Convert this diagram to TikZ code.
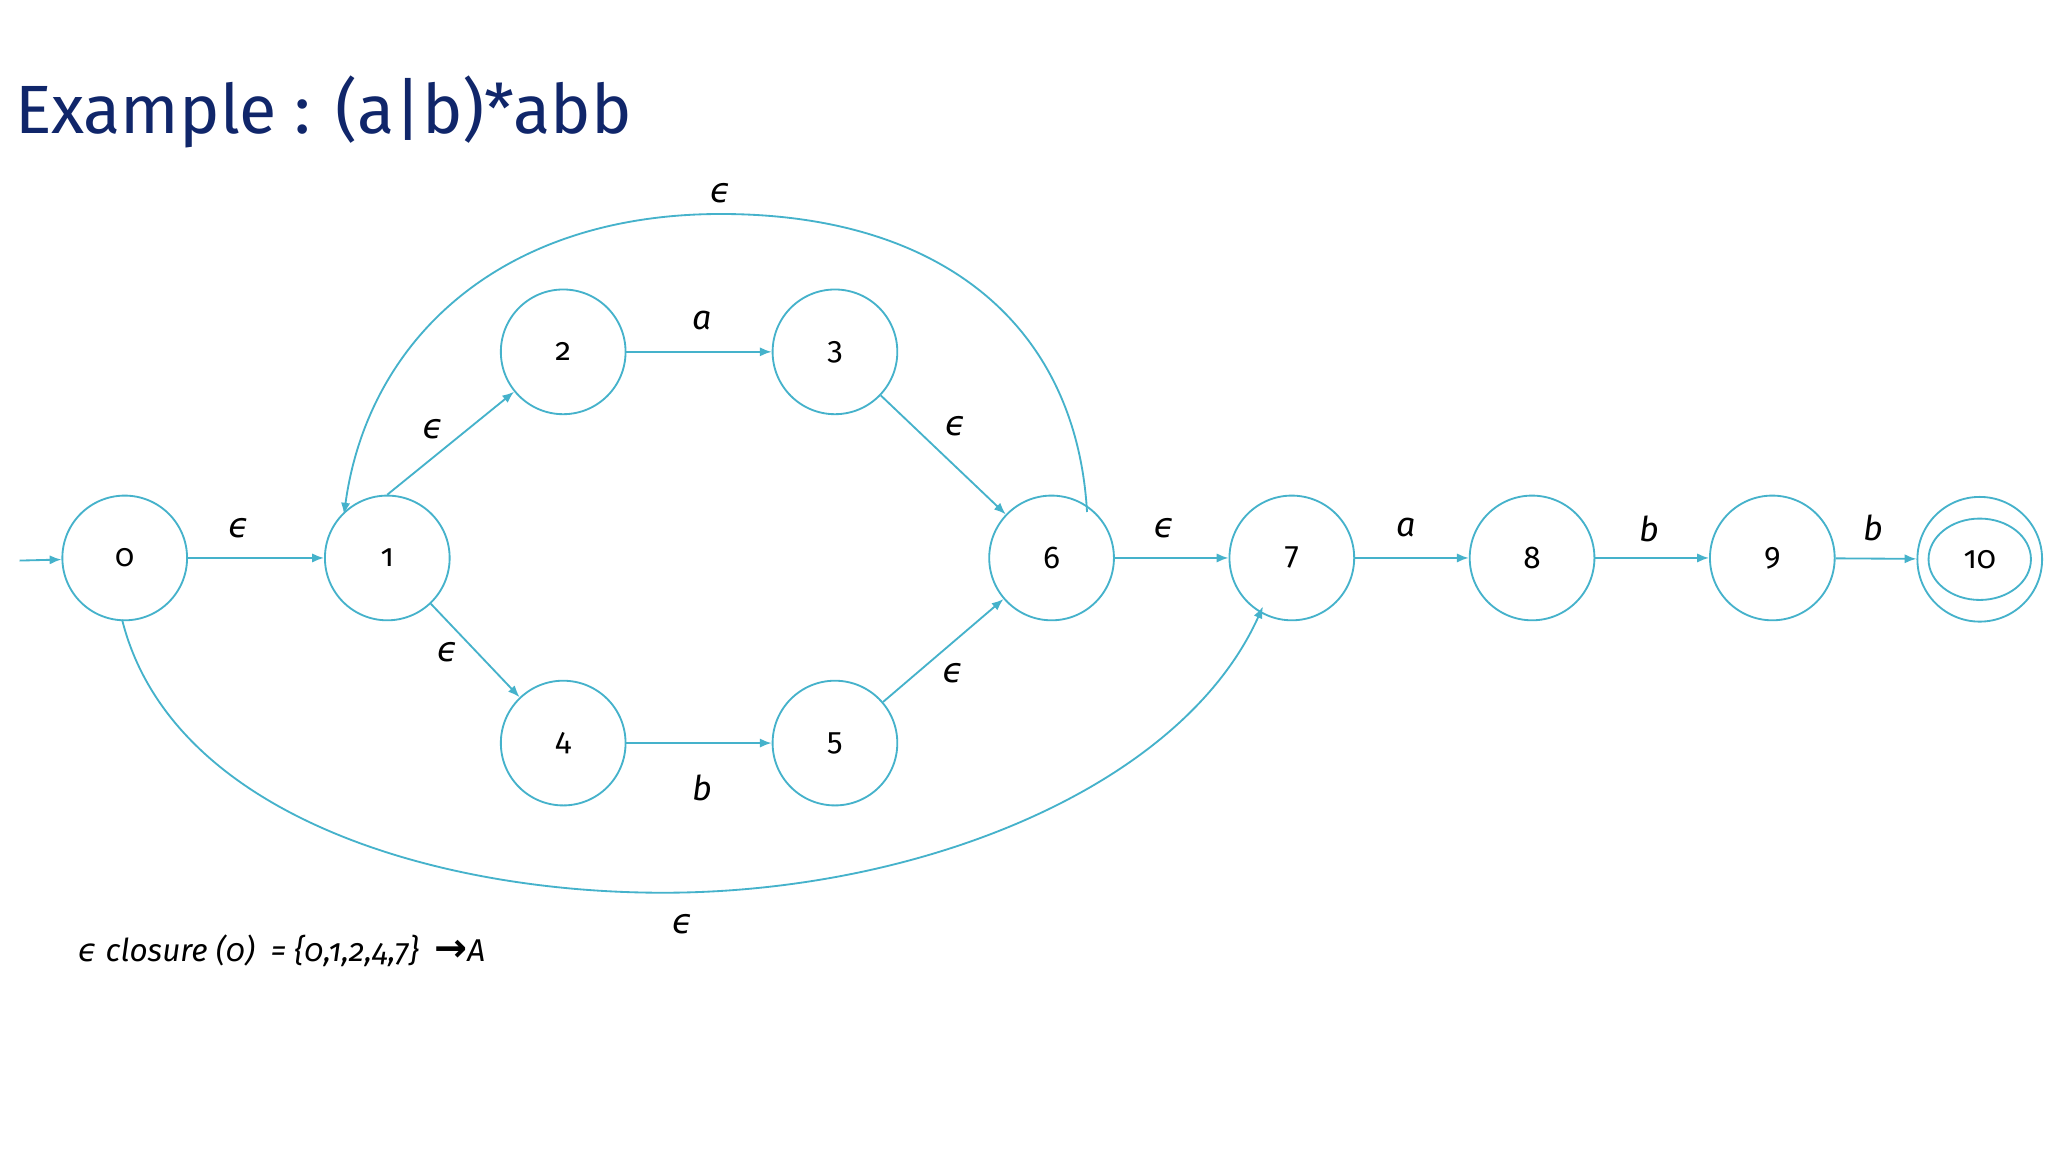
\documentclass[tikz,border=0pt]{standalone}
\usepackage{fontspec}
\setmainfont[Numbers=OldStyle]{Fira Sans}
\newfontfamily\arrfont{DejaVu Sans}
\newcommand{\eps}{{\arrfont\itshape ϵ}}
\usetikzlibrary{arrows.meta}
\definecolor{cyanl}{HTML}{45B2CB}
\definecolor{navy}{HTML}{10266A}
\begin{document}
\begin{tikzpicture}[x=1pt,y=-1pt,
  st/.style={circle,draw=cyanl,line width=1.4pt,minimum size=95pt,inner sep=0pt,font=\fontsize{24}{28}\selectfont},
  tr/.style={draw=cyanl,line width=1.4pt,-{Latex[length=9pt,width=7pt]}},
  lb/.style={font=\fontsize{26}{30}\selectfont\itshape}]
\useasboundingbox (0,0) rectangle (1560,878);
\fill[white] (0,0) rectangle (1560,878);
\node[anchor=west,text=navy,font=\fontsize{52}{60}\selectfont] (title) at (8,85) {Example : (a|b)*abb};
\node[st] (n0) at (95,425) {0};
\node[st] (n1) at (295,425) {1};
\node[st] (n2) at (429,268) {2};
\node[st] (n3) at (636,268) {3};
\node[st] (n4) at (429,566) {4};
\node[st] (n5) at (636,566) {5};
\node[st] (n6) at (801,425) {6};
\node[st] (n7) at (984,425) {7};
\node[st] (n8) at (1167,425) {8};
\node[st] (n9) at (1350,425) {9};
\node[st] (n10) at (1508,426) {};
\draw[cyanl,line width=1.4pt] (n10) ellipse (39pt and 31pt);
\node[font=\fontsize{24}{28}\selectfont] (t10) at (1508,426) {10};
\coordinate (s) at (15,427);
\draw[tr] (s) -- (n0);
\draw[tr] (n0) -- (n1);
\draw[tr] (n1.north) -- (n2);
\draw[tr] (n2) -- (n3);
\draw[tr] (n3) -- (n6);
\draw[tr] (n1) -- (n4);
\draw[tr] (n4) -- (n5);
\draw[tr] (n5) -- (n6);
\draw[tr] (n6) -- (n7);
\draw[tr] (n7) -- (n8);
\draw[tr] (n8) -- (n9);
\draw[tr] (n9) -- (n10);
\coordinate (a6) at (828,390);
\coordinate (a1) at (262,392);
\draw[tr] (a6) .. controls (820,250) and (720,163) .. (549,163) .. controls (380,163) and (280,260) .. (a1);
\coordinate (b0) at (93,472);
\coordinate (b7) at (962,462);
\draw[tr] (b0) .. controls (130,620) and (330,680) .. (505,680) .. controls (700,680) and (900,600) .. (b7);
\node[lb] (l01) at (182,402) {\eps};
\node[lb] (l12) at (330,327) {\eps};
\node[lb] (l23) at (535,244) {a};
\node[lb] (l36) at (728,325) {\eps};
\node[lb] (l14) at (341,497) {\eps};
\node[lb] (l45) at (535,600) {b};
\node[lb] (l56) at (726,513) {\eps};
\node[lb] (l67) at (887,402) {\eps};
\node[lb] (l78) at (1071,402) {a};
\node[lb] (l89) at (1256,403) {b};
\node[lb] (l910) at (1427,402) {b};
\node[lb] (ltop) at (549,147) {\eps};
\node[lb] (lbot) at (520,704) {\eps};
\node[anchor=west,font=\fontsize{24}{28}\selectfont\itshape] (cl) at (56,724) {\eps\ closure (0)\enspace = \{0,1,2,4,7\}\enspace{\upshape\arrfont\bfseries\fontsize{30}{30}\selectfont →}A};
\end{tikzpicture}
\end{document}
